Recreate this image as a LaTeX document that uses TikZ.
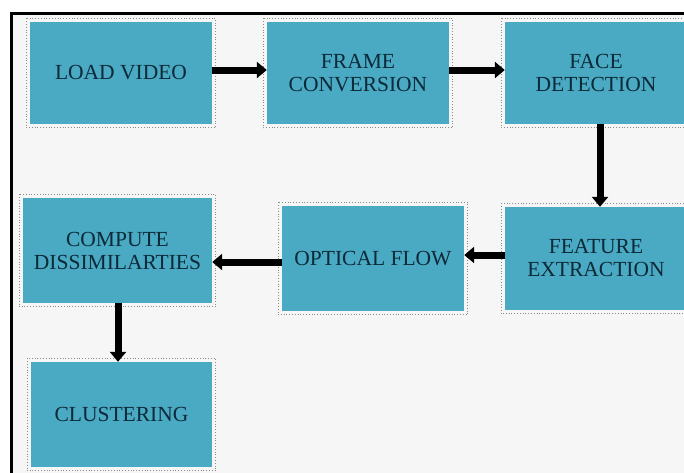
\documentclass[tikz,border=0pt]{standalone}
\usepackage{fontspec}
\setmainfont{Liberation Serif}
\usetikzlibrary{arrows.meta,calc}
\definecolor{boxfill}{HTML}{4AA9C3}
\definecolor{boxtext}{HTML}{0C2A38}
\definecolor{panel}{HTML}{F6F6F6}
\definecolor{dotgray}{HTML}{8A8A8A}
\tikzset{
  stage/.style={rectangle, fill=boxfill, text=boxtext, align=center, inner sep=0pt,
    font=\fontsize{21.5}{23}\selectfont},
  flow/.style={line width=7pt, -{Triangle[width=16pt,length=10pt]}},
  dotbox/.style={draw=dotgray, dotted, line width=0.8pt}
}
\begin{document}
\begin{tikzpicture}[x=1pt,y=-1pt]
\useasboundingbox (0,0) rectangle (684,472);
\clip (0,0) rectangle (684,472);
\fill[white] (0,0) rectangle (684,472);
\fill[panel] (11.5,13.5) rectangle (690,480);
\draw[line width=3pt] (11.5,480) -- (11.5,13.5) -- (690,13.5);

\node[stage, minimum width=182pt, minimum height=102pt] (b1) at (121,73) {LOAD VIDEO};
\node[stage, minimum width=182pt, minimum height=102pt] (b2) at (358,73) {FRAME\\CONVERSION};
\node[stage, minimum width=182pt, minimum height=102pt] (b3) at (596,73) {FACE\\DETECTION};
\node[stage, minimum width=182pt, minimum height=103pt] (b4) at (596,258.5) {FEATURE\\EXTRACTION};
\node[stage, minimum width=182pt, minimum height=105pt] (b5) at (373,258.5) {OPTICAL FLOW};
\node[stage, minimum width=189pt, minimum height=105pt] (b6) at (117.5,250.5) {COMPUTE\\DISSIMILARTIES};
\node[stage, minimum width=181pt, minimum height=105pt] (b7) at (121.5,414.5) {CLUSTERING};

\foreach \n in {b1,b2,b3,b4,b5,b6,b7}
  \draw[dotbox] ($(\n.north west)+(-3.5,-3.5)$) rectangle ($(\n.south east)+(3.5,3.5)$);

\draw[flow] (b1.east |- 0,70) -- (b2.west |- 0,70);
\draw[flow] (b2.east |- 0,70) -- (b3.west |- 0,70);
\draw[flow] (b3.south -| 600,0) -- (b4.north -| 600,0);
\draw[flow] (b4.west |- 0,255) -- (b5.east |- 0,255);
\draw[flow] (b5.west |- 0,262) -- (b6.east |- 0,262);
\draw[flow] (b6.south -| 118,0) -- (b7.north -| 118,0);
\end{tikzpicture}
\end{document}
